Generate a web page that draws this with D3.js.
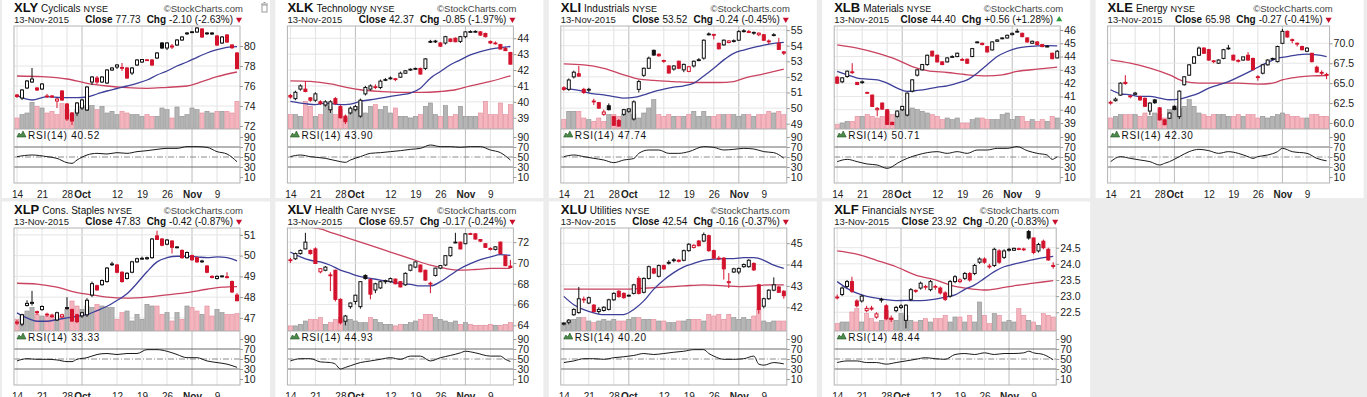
<!DOCTYPE html>
<html>
<head>
<meta charset="utf-8">
<script src="https://cdn.jsdelivr.net/npm/d3@7"></script>
<style>
html, body { margin: 0; padding: 0; background: #ececec; }
svg { display: block; font-family: "Liberation Sans", Arial, sans-serif; }
</style>
</head>
<body>
<svg id="chart" width="1367" height="397"></svg>
<script>
// trading days shown on every panel
var dates = ["9/14","9/15","9/16","9/17","9/18","9/21","9/22","9/23","9/24","9/25","9/28","9/29","9/30",
  "10/1","10/2","10/5","10/6","10/7","10/8","10/9","10/12","10/13","10/14","10/15","10/16","10/19","10/20",
  "10/21","10/22","10/23","10/26","10/27","10/28","10/29","10/30","11/2","11/3","11/4","11/5","11/6",
  "11/9","11/10","11/11","11/12","11/13"];
var tickDates = ["9/14","9/21","9/28","10/1","10/12","10/19","10/26","11/2","11/9"];
var tickLabels = ["14","21","28","Oct","12","19","26","Nov","9"];
var monthLabels = ["Oct","Nov"];

var tickers = ["XLY","XLK","XLI","XLB","XLE","XLP","XLV","XLU","XLF"];
var sectors = ["Cyclicals","Technology","Industrials","Materials","Energy","Cons. Staples","Health Care","Utilities","Financials"];
var closes = ["77.73","42.37","53.52","44.40","65.98","47.83","69.57","42.54","23.92"];
var changes = ["-2.10 (-2.63%)","-0.85 (-1.97%)","-0.24 (-0.45%)","+0.56 (+1.28%)","-0.27 (-0.41%)",
  "-0.42 (-0.87%)","-0.17 (-0.24%)","-0.16 (-0.37%)","-0.20 (-0.83%)"];
var rsiNow = ["40.52","43.90","47.74","50.71","42.30","33.33","44.93","40.20","48.44"];
var priorCloses = [75.3, 40.5, 51.4, 42.3, 62.8, 46.9, 70.5, 41.2, 23.0];

var priceRanges = [[71.7,82.0],[38.29,44.77],[48.66,55.26],[38.55,46.3],[59.25,72.17],
  [46.37,51.33],[63.46,73.36],[40.89,45.71],[21.92,25.11]];
var priceTicks = [[72,74,76,78,80],[39,40,41,42,43,44],[49,50,51,52,53,54,55],[39,40,41,42,43,44,45,46],
  [60,62.5,65,67.5,70],[47,48,49,50,51],[64,66,68,70,72],[42,43,44,45],[22.5,23,23.5,24,24.5]];
var rsiTicks = [10,30,50,70,90];

// [open, high, low, close]
var xlyOHLC = [[75.1,75.2,74.8,74.95],[74.8,75.7,74.6,75.6],[75.8,76.6,75.7,76.5],[76.4,77.8,76.3,76.7],[75.8,75.9,75.5,75.6],
  [75.7,76.3,75.6,76.2],[75.0,75.2,74.8,74.95],[75.0,75.1,74.8,74.9],[74.5,74.8,73.8,74.7],[75.5,75.6,74.5,74.6],
  [74.2,74.3,72.5,72.7],[73.3,73.4,72.1,72.5],[73.3,74.4,73.0,74.3],[73.8,74.7,73.6,74.6],[73.6,76.0,73.5,75.9],
  [76.4,77.0,76.1,76.9],[76.8,77.0,76.2,76.4],[76.4,77.0,76.3,76.9],[76.3,77.7,76.2,77.6],[77.6,77.9,77.5,77.8],
  [77.9,78.2,77.7,78.1],[77.85,78.3,77.5,77.8],[77.8,77.9,76.7,76.8],[77.3,77.9,77.1,77.8],[78.1,78.7,78.0,78.6],
  [78.4,78.7,78.3,78.65],[78.6,78.7,78.5,78.62],[78.6,78.7,78.0,78.1],[78.8,79.4,78.7,79.3],[80.3,80.4,79.7,79.8],
  [79.8,80.4,79.6,80.3],[80.0,80.2,79.7,79.9],[80.1,80.7,80.0,80.6],[80.6,81.0,80.5,80.9],[81.25,81.4,81.1,81.3],
  [81.4,81.5,81.3,81.42],[81.4,81.9,81.3,81.8],[81.7,81.8,80.8,80.9],[81.3,81.4,81.1,81.25],[81.2,81.4,81.1,81.3],
  [81.0,81.1,80.0,80.1],[80.3,81.0,80.2,80.9],[81.1,81.2,80.3,80.4],[80.1,80.2,79.7,79.83],[79.3,79.4,77.7,77.73]];
var xlyVol = [33,43,48,80,68,63,48,53,43,76,58,43,58,68,70,70,58,68,48,53,43,53,48,43,43,38,43,38,38,63,58,33,66,38,43,63,58,48,53,48,53,53,53,48,83];
var xlyMA20 = [[0,75.03],[3,74.6],[6,74.93],[9,74.83],[12,74.83],[14,74.9],[16,75.2],[18,75.5],[20,75.75],[22,76.0],[24,76.27],[26,76.6],[28,77.1],[30,77.5],[32,78.0],[34,78.4],[36,78.87],[38,79.3],[40,79.63],[42,79.87],[44,79.93]];
var xlyMA50 = [[0,77.0],[5,76.93],[10,76.7],[14,76.27],[18,76.0],[22,75.83],[26,75.77],[30,75.87],[34,76.0],[37,76.43],[40,76.93],[44,77.4]];
var xlyRSI = [[0,50.7],[3,54],[6,50.7],[8,47.3],[10,38.7],[11,37.3],[12,44],[14,54],[16,57.3],[18,56],[20,58.7],[22,57.3],[24,60.7],[26,62.7],[28,65.3],[30,67.3],[32,67.3],[34,70.7],[36,70.7],[38,69.3],[40,60.7],[42,56],[44,40.5]];

var xlkOHLC = [[40.4,40.5,40.2,40.3],[40.2,40.7,40.1,40.6],[40.8,41.1,40.7,41.0],[40.8,41.3,40.6,40.65],[40.25,40.3,40.0,40.1],
  [40.1,40.6,40.0,40.5],[40.0,40.1,39.8,39.9],[39.8,40.1,39.7,40.0],[39.5,40.1,39.3,40.0],[40.2,40.3,39.8,39.9],
  [39.7,39.8,38.95,39.0],[39.1,39.2,38.6,38.75],[39.3,39.7,39.2,39.6],[39.5,39.8,39.4,39.7],[39.1,40.2,39.0,40.1],
  [40.5,41.0,40.4,40.9],[40.8,41.1,40.7,41.0],[40.95,41.1,40.8,40.9],[40.9,41.4,40.8,41.3],[41.35,41.5,41.3,41.4],
  [41.5,41.6,41.4,41.5],[41.45,41.5,41.3,41.4],[41.55,41.9,41.5,41.8],[41.8,42.0,41.75,41.95],[42.05,42.1,41.95,42.05],
  [42.05,42.15,42.0,42.1],[42.1,42.15,41.7,41.75],[42.1,42.75,42.0,42.7],[43.8,43.9,43.7,43.8],[43.8,43.9,43.7,43.82],
  [43.7,43.75,43.45,43.5],[43.7,44.15,43.6,44.1],[43.95,44.0,43.75,43.8],[44.0,44.05,43.75,43.78],[43.8,44.15,43.7,44.1],
  [44.1,44.45,44.0,44.4],[44.4,44.5,44.35,44.42],[44.4,44.5,44.35,44.43],[44.4,44.45,44.15,44.2],[44.3,44.35,44.05,44.1],
  [43.8,43.85,43.65,43.7],[43.7,43.8,43.6,43.68],[43.6,43.65,43.3,43.32],[43.35,43.45,43.2,43.22],[43.1,43.15,42.35,42.37]];
var xlkVol = [43,43,38,83,68,38,43,78,68,43,58,33,58,68,78,48,68,73,58,68,48,63,38,38,33,38,43,68,78,43,38,70,38,43,68,38,38,38,48,83,43,43,78,43,73];
var xlkMA20 = [[0,40.03],[3,39.88],[5,39.82],[7,39.92],[10,39.82],[12,39.86],[14,40.03],[16,40.13],[18,40.23],[20,40.34],[22,40.44],[24,40.55],[26,40.86],[28,41.49],[30,41.91],[32,42.33],[34,42.64],[36,42.95],[38,43.16],[40,43.31],[42,43.41],[44,43.48]];
var xlkMA50 = [[0,41.32],[4,41.28],[8,41.13],[12,40.86],[14,40.76],[18,40.65],[22,40.59],[26,40.59],[30,40.65],[33,40.76],[36,41.0],[40,41.28],[44,41.64]];
var xlkRSI = [[0,50.7],[2,54],[4,50.7],[7,47.3],[10,40.7],[11,39.3],[12,44],[14,50.7],[16,57.3],[18,58.7],[20,60.7],[22,62.7],[24,65.3],[26,67.3],[28,74],[30,70.7],[32,70.7],[34,69.3],[36,70.7],[38,70.7],[40,64],[42,58.7],[44,43.9]];

var xliOHLC = [[51.3,51.4,51.1,51.2],[51.2,51.9,51.1,51.8],[52.0,52.4,51.9,52.3],[52.2,52.7,52.0,52.05],[51.2,51.3,50.9,51.0],
  [51.15,51.3,51.0,51.2],[50.45,50.6,50.2,50.4],[50.35,50.4,49.95,50.0],[49.6,49.9,49.5,49.75],[50.15,50.3,49.85,49.9],
  [49.45,49.5,48.85,48.9],[49.2,49.3,48.8,48.85],[49.6,49.95,49.5,49.9],[49.8,50.0,49.7,49.95],[49.3,50.5,49.2,50.4],
  [51.2,51.8,51.0,51.7],[52.1,52.6,52.0,52.55],[52.55,53.3,52.5,53.2],[53.7,53.75,53.35,53.4],[53.45,53.5,53.3,53.35],
  [53.05,53.1,52.9,53.0],[52.7,52.75,52.2,52.25],[52.5,52.75,52.4,52.7],[53.0,53.05,52.5,52.55],[52.45,52.85,52.3,52.8],
  [52.35,52.7,52.3,52.65],[52.7,53.05,52.6,53.0],[53.05,53.2,53.0,53.1],[53.2,54.4,53.1,54.35],[54.75,54.85,54.65,54.75],
  [54.72,54.75,54.4,54.7],[54.15,54.2,53.75,53.8],[54.05,54.4,54.0,54.35],[54.2,54.35,54.15,54.3],[54.3,54.4,54.2,54.32],
  [54.35,55.0,54.3,54.9],[54.95,55.05,54.85,54.95],[54.9,55.0,54.8,54.85],[54.8,54.9,54.7,54.85],[54.7,54.85,54.6,54.8],
  [54.7,54.75,54.3,54.35],[54.25,54.4,54.1,54.3],[54.68,54.8,54.6,54.7],[54.15,54.5,53.75,53.76],[53.6,53.65,53.4,53.52]];
var xliVol = [28,53,53,53,33,28,23,33,23,43,43,38,43,58,43,33,48,63,88,43,38,43,38,38,38,43,53,38,53,38,38,43,43,43,43,38,43,43,38,43,43,53,48,53,43];
var xliMA20 = [[0,51.28],[3,51.13],[6,50.91],[8,50.85],[10,50.74],[12,50.64],[14,50.68],[16,50.85],[18,51.06],[20,51.21],[22,51.34],[24,51.43],[26,51.6],[28,52.05],[30,52.55],[32,53.09],[34,53.51],[36,53.72],[38,53.89],[40,54.04],[42,54.15],[44,54.21]];
var xliMA50 = [[0,52.83],[4,52.77],[8,52.55],[12,52.13],[15,51.85],[18,51.77],[22,51.7],[26,51.64],[31,51.64],[34,51.7],[36,51.91],[40,52.19],[44,52.49]];
var xliRSI = [[0,50.7],[2,54],[4,50.7],[6,47.3],[8,44],[10,38.7],[12,44],[14,47],[15,57.3],[17,64],[19,64],[21,57.3],[23,57.3],[25,60.7],[28,70.7],[30,69.3],[32,64],[34,65.3],[36,67.3],[38,66],[40,60.7],[42,58.7],[44,47.7]];

var xlbOHLC = [[42.45,42.55,41.95,42.0],[42.1,42.45,42.0,42.4],[42.5,42.95,42.4,42.9],[42.85,43.5,42.7,42.8],[42.05,42.1,41.85,41.9],
  [42.05,42.2,41.95,42.1],[41.3,41.35,41.2,41.25],[41.1,41.15,40.2,40.25],[40.0,40.2,39.5,40.1],[40.5,40.55,40.0,40.05],
  [40.0,40.05,38.85,38.9],[39.05,39.1,38.85,38.88],[39.5,39.95,39.4,39.9],[40.0,40.3,39.9,40.25],[39.6,41.3,39.5,41.25],
  [41.4,42.3,41.3,42.25],[42.6,43.05,42.5,43.0],[43.0,43.45,42.95,43.4],[43.4,44.15,43.3,44.1],[44.4,44.45,44.0,44.05],
  [44.1,44.15,43.55,43.6],[43.6,43.65,43.35,43.4],[43.6,43.95,43.55,43.9],[43.98,44.1,43.9,44.0],[44.0,44.3,43.95,44.25],
  [43.78,43.9,43.7,43.75],[43.8,43.85,43.45,43.5],[44.0,44.65,43.95,44.6],[45.1,45.15,45.0,45.1],[45.0,45.05,44.85,44.9],
  [44.75,44.8,44.3,44.35],[44.5,45.15,44.45,45.1],[45.15,45.3,45.1,45.25],[45.38,45.45,45.3,45.4],[45.4,45.65,45.35,45.6],
  [45.65,45.8,45.6,45.75],[45.88,46.1,45.8,45.9],[45.75,45.8,45.45,45.5],[45.4,45.45,45.05,45.1],[45.0,45.2,44.95,45.15],
  [45.1,45.15,44.85,44.9],[44.9,44.95,44.7,44.75],[44.75,44.85,44.7,44.78],[44.25,44.3,43.8,43.84],[43.9,44.5,43.85,44.4]];
var xlbVol = [13,18,23,23,38,38,43,38,33,38,53,43,48,58,58,63,58,53,48,43,38,28,33,28,33,18,18,28,33,33,28,28,28,43,48,28,38,38,23,28,23,28,23,38,33];
var xlbMA20 = [[0,42.88],[2,42.63],[4,42.38],[6,42.3],[8,42.25],[10,42.0],[12,41.63],[14,41.38],[16,41.45],[18,41.55],[20,41.7],[22,41.8],[24,42.0],[26,42.25],[28,42.75],[30,43.38],[32,44.0],[34,44.38],[36,44.63],[38,44.75],[40,44.8],[42,44.83],[44,44.8]];
var xlbMA50 = [[0,44.88],[4,44.63],[8,44.25],[12,43.75],[15,43.25],[18,42.95],[22,42.8],[26,42.63],[30,42.55],[33,42.63],[36,42.88],[40,43.05],[44,43.2]];
var xlbRSI = [[0,40.7],[2,45.3],[4,40.7],[6,36],[8,34],[10,27.3],[11,30.7],[12,37.3],[14,47.3],[16,54],[18,58.7],[20,60.7],[22,57.3],[24,60.7],[26,57.3],[28,64],[30,64],[32,67.3],[34,67.3],[36,70.7],[38,62.7],[40,57.3],[42,54],[43,45.3],[44,50.7]];

var xleOHLC = [[62.6,62.8,62.3,62.5],[62.8,63.2,62.7,63.0],[63.5,65.1,63.4,65.0],[65.1,66.0,64.8,64.95],[63.4,63.5,63.1,63.3],
  [63.6,63.9,63.5,63.75],[63.3,63.4,62.8,62.9],[63.1,63.2,62.0,62.1],[61.5,62.6,61.0,62.5],[62.9,63.0,62.4,62.55],
  [61.9,62.0,60.3,60.4],[60.4,60.5,59.7,59.8],[60.6,61.3,60.5,61.25],[62.1,62.2,61.6,61.7],[60.8,64.1,60.5,64.0],
  [64.8,65.9,64.7,65.8],[66.0,67.4,65.9,67.3],[67.5,68.4,67.4,68.3],[68.5,69.6,68.4,69.4],[69.4,69.5,68.7,68.75],
  [69.2,69.3,67.8,67.9],[67.8,67.9,67.5,67.7],[67.5,68.0,67.4,67.9],[68.1,69.3,68.0,69.2],[69.35,69.8,69.2,69.4],
  [68.5,68.6,67.85,67.9],[67.85,68.0,67.6,67.8],[67.9,68.3,67.8,68.3],[68.5,68.9,67.8,67.9],[68.1,68.2,66.6,66.7],
  [65.8,66.0,65.3,65.75],[66.25,67.4,66.1,67.3],[67.3,68.0,67.2,67.9],[68.1,68.2,67.9,68.05],[67.7,69.7,67.6,69.6],
  [70.0,71.8,69.9,71.5],[71.5,71.6,70.7,70.8],[70.45,70.6,70.0,70.4],[69.9,70.1,69.6,70.0],[69.6,69.7,69.1,69.2],
  [69.0,69.5,68.9,69.4],[68.75,68.8,67.6,67.7],[67.0,67.2,66.3,66.4],[66.35,66.6,66.0,66.25],[66.1,66.3,65.5,65.98]];
var xleVol = [33,38,43,43,43,43,38,48,38,48,43,33,58,63,63,68,88,68,48,43,38,43,43,43,38,38,43,38,43,43,33,38,33,38,43,48,43,38,38,33,33,43,43,38,38];
var xleMA20 = [[0,64.17],[2,63.67],[4,63.54],[6,63.33],[8,63.33],[10,63.13],[12,62.92],[14,63.0],[16,63.33],[18,63.75],[20,64.38],[22,64.79],[24,65.2],[26,65.75],[28,66.35],[30,67.0],[32,67.6],[34,68.13],[36,68.33],[38,68.54],[40,68.63],[42,68.54],[44,68.33]];
var xleMA50 = [[0,67.92],[4,67.5],[8,66.88],[12,66.04],[15,65.21],[18,65.0],[22,65.0],[26,65.0],[30,64.88],[33,65.0],[35,65.42],[38,65.75],[41,65.92],[44,65.96]];
var xleRSI = [[0,40.7],[2,50.7],[4,47.3],[6,44],[8,40.7],[10,34],[11,37.3],[12,40.7],[14,50.7],[16,60.7],[18,65.3],[20,62.7],[22,57.3],[24,60.7],[26,57.3],[28,50.7],[29,47.3],[30,50.7],[32,54],[34,60.7],[35,67.3],[37,60.7],[40,57.3],[42,47.3],[44,42.3]];

var xlpOHLC = [[46.8,46.9,46.65,46.75],[46.7,47.2,46.6,47.15],[47.6,47.85,47.55,47.7],[47.7,48.3,47.6,47.75],[47.3,47.35,47.15,47.25],
  [47.4,47.6,47.35,47.55],[47.18,47.25,47.05,47.15],[47.1,47.2,47.0,47.08],[46.9,47.3,46.85,47.25],[47.05,47.2,47.0,47.15],
  [47.45,48.0,47.4,47.5],[47.4,47.45,46.8,46.85],[47.15,47.2,46.75,46.82],[47.1,47.3,47.0,47.25],[47.15,47.95,47.05,47.85],
  [48.1,48.75,48.0,48.65],[48.55,48.6,48.3,48.35],[48.6,48.85,48.55,48.8],[48.75,49.45,48.7,49.4],[49.58,49.7,49.5,49.6],
  [49.55,49.6,49.15,49.2],[49.2,49.25,48.7,48.75],[48.9,49.2,48.85,49.15],[49.2,49.75,49.15,49.7],[49.7,49.9,49.65,49.85],
  [49.85,49.95,49.8,49.87],[49.85,49.95,49.8,49.9],[49.9,50.85,49.85,50.8],[50.95,51.2,50.75,50.78],[50.8,50.85,50.45,50.5],
  [50.55,50.8,50.5,50.75],[50.7,50.75,50.1,50.4],[50.38,50.45,50.35,50.42],[50.25,50.3,49.85,49.9],[49.9,50.2,49.85,50.15],
  [50.0,50.05,49.75,49.8],[49.9,49.95,49.65,49.7],[49.72,49.8,49.65,49.74],[49.5,49.55,49.15,49.2],[49.0,49.05,48.9,48.95],
  [48.9,49.05,48.85,49.0],[49.0,49.05,48.95,49.02],[48.98,49.2,48.9,48.95],[48.75,48.8,48.2,48.25],[48.1,48.2,47.8,47.83]];
var xlpVol = [35,50,60,70,50,45,45,50,35,45,65,90,75,65,75,70,80,75,70,70,35,55,60,30,50,35,80,75,75,50,55,30,55,35,75,70,60,50,75,45,65,55,50,50,52];
var xlpMA20 = [[0,47.24],[2,47.0],[4,46.84],[6,46.84],[8,46.92],[10,47.0],[12,47.08],[14,47.16],[16,47.35],[18,47.56],[20,47.84],[22,48.16],[24,48.67],[26,49.22],[28,49.7],[30,49.9],[32,49.97],[34,49.97],[36,49.94],[38,49.9],[40,49.94],[42,49.9],[44,49.75]];
var xlpMA50 = [[0,48.67],[4,48.63],[8,48.48],[12,48.22],[15,48.11],[18,48.0],[22,47.95],[26,48.0],[30,48.11],[34,48.22],[38,48.38],[41,48.48],[44,48.51]];
var xlpRSI = [[0,46.1],[2,50.6],[4,49.4],[6,49.4],[8,48.1],[10,44.8],[11,44.8],[12,49.4],[14,52.6],[16,59],[18,61],[20,59],[22,61],[24,61],[26,68.7],[28,68.7],[30,65.5],[32,59],[34,52.6],[36,52.6],[38,46.1],[40,42.9],[42,39.7],[44,33.3]];

var xlvOHLC = [[70.3,70.5,70.0,70.25],[70.4,71.0,70.3,70.9],[70.9,71.3,70.8,71.2],[71.35,72.9,71.3,72.0],[71.2,71.3,70.8,70.9],
  [71.35,71.5,69.9,69.95],[69.15,69.5,69.0,69.45],[69.3,69.7,69.2,69.6],[68.85,69.1,67.3,68.8],[69.3,69.35,66.3,66.5],
  [66.5,66.6,64.1,64.25],[64.4,65.0,64.0,64.9],[65.8,66.2,65.6,66.15],[66.3,66.95,66.0,66.9],[65.8,68.25,65.6,68.2],
  [68.8,68.9,68.4,68.5],[68.4,68.5,66.5,67.0],[67.4,68.1,67.1,68.0],[67.6,68.3,67.5,68.2],[68.2,68.4,68.0,68.3],
  [68.2,68.6,68.1,68.5],[68.45,68.5,67.95,68.0],[68.2,68.25,67.65,67.7],[67.9,69.1,67.8,69.0],[69.3,69.85,69.2,69.8],
  [69.6,70.15,69.5,70.1],[69.8,69.85,69.1,69.15],[69.3,69.35,68.3,68.35],[68.05,68.2,67.1,68.0],[68.8,69.55,68.7,69.5],
  [69.5,69.8,69.4,69.75],[69.8,70.75,69.7,70.7],[70.7,71.55,70.6,71.5],[71.98,72.9,71.9,72.0],[72.0,72.05,71.3,71.35],
  [71.85,72.85,71.8,72.8],[72.82,72.9,72.7,72.78],[72.8,72.85,72.25,72.3],[72.25,72.3,72.0,72.1],[71.85,71.9,71.45,71.5],
  [71.4,71.5,71.2,71.3],[71.3,71.6,71.2,71.55],[72.0,72.05,70.85,70.9],[70.7,70.75,69.7,69.74],[69.7,70.3,69.5,69.57]];
var xlvVol = [15,15,20,30,35,35,40,20,25,35,40,35,35,30,25,25,40,35,25,20,20,15,20,20,25,30,35,50,50,40,35,30,25,30,20,25,20,17,17,17,20,17,17,20,25];
var xlvMA20 = [[0,71.05],[2,70.58],[4,70.26],[6,70.1],[8,69.78],[10,69.31],[12,68.99],[14,68.68],[16,68.52],[18,68.36],[20,68.2],[22,68.04],[24,67.95],[26,67.79],[28,67.79],[30,68.2],[32,68.84],[34,69.47],[36,69.94],[38,70.32],[40,70.58],[42,70.8],[44,70.73]];
var xlvMA50 = [[0,73.74],[3,73.49],[6,73.27],[8,72.95],[12,72.32],[16,71.68],[20,71.05],[24,70.42],[28,69.78],[31,69.47],[34,69.31],[37,69.37],[40,69.47],[44,69.47]];
var xlvRSI = [[0,46.1],[2,50.6],[4,50.6],[6,44.2],[8,42.9],[9,39.7],[10,30],[11,33.2],[12,36.5],[14,42.9],[16,46.1],[18,49.4],[20,52.6],[22,49.4],[24,55.8],[26,55.8],[28,46.1],[30,52.6],[32,57.1],[34,62.3],[35,65.5],[37,62.3],[40,55.8],[42,55.8],[43,49.4],[44,44.9]];

var xluOHLC = [[41.22,41.3,41.15,41.25],[41.3,41.45,41.2,41.4],[41.65,41.95,41.6,41.9],[41.75,42.95,41.7,42.4],[42.38,42.5,42.2,42.35],
  [42.2,42.5,42.15,42.45],[42.1,42.15,41.75,41.8],[41.8,42.0,41.7,41.9],[41.85,42.05,41.8,42.0],[41.9,42.4,41.85,42.35],
  [42.35,42.7,42.3,42.65],[42.75,42.8,42.45,42.5],[42.65,42.7,42.4,42.45],[42.55,42.6,42.5,42.56],[42.65,43.1,42.6,43.05],
  [43.35,43.45,42.6,42.65],[42.7,43.4,42.65,43.35],[43.35,43.95,43.3,43.9],[43.8,43.85,43.55,43.6],[43.45,44.0,43.4,43.95],
  [43.95,44.0,43.75,43.8],[44.1,44.2,44.0,44.1],[44.22,44.3,44.1,44.2],[44.2,44.25,44.1,44.15],[44.2,44.7,44.15,44.65],
  [44.65,45.0,44.6,44.95],[44.8,44.95,44.75,44.9],[45.1,45.15,44.85,44.88],[45.1,45.5,45.05,45.4],[45.35,45.4,44.6,44.65],
  [44.65,44.7,44.25,44.3],[44.3,44.4,44.2,44.28],[44.3,44.35,43.3,43.8],[43.15,43.6,42.9,43.2],[43.65,43.85,43.6,43.8],
  [43.65,43.85,43.55,43.82],[43.9,44.05,43.85,44.0],[43.9,44.25,43.85,44.2],[44.05,44.1,43.7,43.75],[43.05,43.1,41.7,41.9],
  [42.05,42.45,41.95,42.4],[42.4,42.85,42.35,42.8],[42.8,43.4,42.75,43.05],[42.95,43.0,42.7,42.7],[42.75,42.8,42.4,42.54]];
var xluVol = [25,30,35,40,40,30,25,30,35,30,35,30,30,35,40,40,35,35,35,30,30,25,25,30,30,35,35,35,30,50,45,50,35,50,40,35,40,35,45,65,30,25,30,30,30];
var xluMA20 = [[0,42.51],[2,42.12],[4,41.89],[6,41.74],[8,41.66],[10,41.66],[12,41.66],[14,41.9],[16,42.3],[18,42.85],[20,43.28],[22,43.62],[24,43.89],[26,44.05],[28,44.2],[30,44.25],[32,44.28],[34,44.28],[36,44.32],[38,44.32],[40,44.2],[42,43.97],[44,43.82]];
var xluMA50 = [[0,42.85],[4,42.85],[8,42.85],[12,42.85],[16,42.89],[20,42.94],[24,43.0],[28,43.05],[32,43.0],[35,42.97],[38,43.0],[41,43.05],[44,43.05]];
var xluRSI = [[0,42.9],[2,46.1],[4,50.6],[6,50.6],[8,49.4],[10,52.6],[12,54.5],[14,57.1],[16,61],[18,59],[20,61],[22,63.5],[24,65.5],[26,68.7],[28,68.7],[29,61],[30,55.8],[32,49.4],[34,49.4],[36,50.6],[38,55.8],[39,39.7],[40,37.7],[42,42.9],[44,40.2]];

var xlfOHLC = [[22.97,23.05,22.9,22.95],[23.05,23.3,23.0,23.25],[23.3,23.5,23.25,23.45],[23.45,23.6,23.1,23.15],[22.85,22.9,22.65,22.7],
  [22.85,23.05,22.8,23.0],[22.55,22.7,22.5,22.62],[22.63,22.7,22.55,22.6],[22.35,22.5,22.3,22.45],[22.88,22.95,22.8,22.9],
  [22.7,22.75,22.25,22.3],[22.32,22.4,22.2,22.28],[22.55,22.7,22.5,22.65],[22.65,22.75,22.6,22.7],[22.25,22.75,22.0,22.72],
  [22.9,23.25,22.85,23.2],[23.18,23.2,23.1,23.15],[23.25,23.45,23.2,23.4],[23.28,23.35,23.2,23.3],[23.2,23.5,23.15,23.45],
  [23.28,23.35,23.2,23.3],[23.25,23.3,23.05,23.1],[23.1,23.15,22.85,22.9],[23.0,23.5,22.95,23.45],[23.45,23.65,23.4,23.6],
  [23.45,23.55,23.4,23.5],[23.55,23.75,23.5,23.7],[23.7,23.75,23.45,23.5],[23.7,24.0,23.65,23.95],[24.05,24.2,24.0,24.15],
  [24.15,24.2,24.0,24.05],[23.93,24.0,23.85,23.92],[23.95,24.5,23.9,24.45],[24.4,24.45,24.0,24.05],[24.2,24.45,24.15,24.4],
  [24.42,24.5,24.38,24.45],[24.42,24.5,24.4,24.48],[24.45,24.5,24.42,24.47],[24.44,24.5,24.4,24.46],[25.0,25.05,24.75,24.8],
  [24.8,24.82,24.3,24.35],[24.4,24.65,24.35,24.6],[24.7,24.75,24.45,24.5],[24.45,24.5,24.1,24.12],[23.95,24.05,23.85,23.92]];
var xlfVol = [22,27,27,57,67,27,52,37,27,32,62,37,32,52,47,32,27,32,37,27,37,37,47,27,42,42,27,47,27,87,47,22,52,47,27,32,27,67,47,32,27,17,52,47,42];
var xlfMA20 = [[0,23.45],[2,23.24],[4,23.09],[6,22.99],[8,22.94],[10,22.89],[12,22.86],[14,22.87],[16,22.86],[18,22.87],[20,22.91],[22,22.97],[24,23.04],[26,23.21],[28,23.35],[30,23.55],[32,23.76],[34,23.91],[36,23.99],[38,24.06],[40,24.13],[42,24.19],[44,24.23]];
var xlfMA50 = [[0,24.4],[4,24.3],[8,24.11],[12,23.91],[16,23.65],[20,23.5],[24,23.3],[28,23.21],[30,23.19],[33,23.24],[36,23.32],[40,23.4],[44,23.48]];
var xlfRSI = [[0,42.9],[2,46.1],[4,46.1],[6,42.9],[8,42.9],[10,39.7],[12,42.9],[14,46.1],[16,49.4],[18,52.6],[20,50.6],[22,49.4],[24,59],[26,61],[28,59],[30,62.3],[32,59],[34,61],[36,61],[38,62.3],[39,65.5],[40,62.3],[42,59],[44,48.4]];

var ohlcs = [xlyOHLC, xlkOHLC, xliOHLC, xlbOHLC, xleOHLC, xlpOHLC, xlvOHLC, xluOHLC, xlfOHLC];
var volumes = [xlyVol, xlkVol, xliVol, xlbVol, xleVol, xlpVol, xlvVol, xluVol, xlfVol];
var ma20s = [xlyMA20, xlkMA20, xliMA20, xlbMA20, xleMA20, xlpMA20, xlvMA20, xluMA20, xlfMA20];
var ma50s = [xlyMA50, xlkMA50, xliMA50, xlbMA50, xleMA50, xlpMA50, xlvMA50, xluMA50, xlfMA50];
var rsis = [xlyRSI, xlkRSI, xliRSI, xlbRSI, xleRSI, xlpRSI, xlvRSI, xluRSI, xlfRSI];

var RED = "#d3122c", BLACK = "#111";

var svg = d3.select("#chart");
var defs = svg.append("defs");

tickers.forEach(function (ticker, k) {
        var col = k % 5, row = Math.floor(k / 5);
        var bx = 2 + col * 273.4, top = row * 202;
        var left = bx + 12;
        var ticks = priceTicks[k];
        var wide = ticks.some(function (t) { return t % 1 !== 0; });
        var right = left + (wide ? 222 : 226);
        var pTop = top + 26, pBot = top + 129, rBot = top + 183;

        // white card
        svg.append("rect")
                .attr("x", bx).attr("y", row ? top - 0.5 : -2)
                .attr("width", 268).attr("height", 200)
                .attr("fill", "#fff");

        var x = d3.scalePoint().domain(dates).range([left + 3, right - 3]);
        var y = d3.scaleLinear().domain(priceRanges[k]).range([pBot, pTop]);
        var v = d3.scaleLinear().domain([0, 90]).range([pBot, pBot - 30]);
        var r = d3.scaleLinear().domain([0, 100]).range([rBot - 1, rBot - 51]);

        var ohlc = ohlcs[k];
        var rows = ohlc.map(function (d, i) {
                var prev = i ? ohlc[i - 1][3] : priorCloses[k];
                return { date: dates[i], o: d[0], h: d[1], l: d[2], c: d[3], vol: volumes[k][i], down: d[3] < prev };
        });
        var color = function (d) { return d.down ? RED : BLACK; };

        // grid
        var grid = svg.append("g");
        grid.selectAll("line.v").data(tickDates).join("line")
                .attr("x1", function (d) { return x(d); })
                .attr("x2", function (d) { return x(d); })
                .attr("y1", pTop).attr("y2", rBot)
                .attr("stroke", function (d, i) { return monthLabels.indexOf(tickLabels[i]) >= 0 ? "#bcbcbc" : "#e2e2e2"; });
        grid.selectAll("line.h").data(ticks).join("line")
                .attr("x1", left).attr("x2", right)
                .attr("y1", function (d) { return y(d); })
                .attr("y2", function (d) { return y(d); })
                .attr("stroke", "#e6e6e6");

        defs.append("clipPath").attr("id", "clip" + k)
                .append("rect").attr("x", left).attr("y", pTop)
                .attr("width", right - left).attr("height", pBot - pTop);

        var plot = svg.append("g").attr("clip-path", "url(#clip" + k + ")");

        // volume
        plot.selectAll("rect.vol").data(rows).join("rect")
                .attr("x", function (d) { return x(d.date) - 2.1; })
                .attr("width", 4.2)
                .attr("y", function (d) { return v(d.vol); })
                .attr("height", function (d) { return pBot - v(d.vol); })
                .attr("fill", function (d) { return d.down ? "#f4b5bf" : "#b5b5b5"; })
                .attr("stroke", function (d) { return d.down ? "#e28c9a" : "#8f8f8f"; })
                .attr("stroke-width", 0.6);

        // moving averages
        var ma = d3.line()
                .x(function (d) { return x(dates[d[0]]); })
                .y(function (d) { return y(d[1]); })
                .curve(d3.curveMonotoneX);
        plot.append("path").datum(ma50s[k]).attr("d", ma)
                .attr("fill", "none").attr("stroke", "#c9425f").attr("stroke-width", 1.3);
        plot.append("path").datum(ma20s[k]).attr("d", ma)
                .attr("fill", "none").attr("stroke", "#3d3f99").attr("stroke-width", 1.3);

        // candles
        var candle = plot.selectAll("g.candle").data(rows).join("g");
        candle.append("line")
                .attr("x1", function (d) { return x(d.date); })
                .attr("x2", function (d) { return x(d.date); })
                .attr("y1", function (d) { return y(d.h); })
                .attr("y2", function (d) { return y(d.l); })
                .attr("stroke", color);
        candle.append("rect")
                .attr("x", function (d) { return x(d.date) - 1.5; })
                .attr("width", 3)
                .attr("y", function (d) { return y(Math.max(d.o, d.c)); })
                .attr("height", function (d) { return Math.max(0.8, Math.abs(y(d.o) - y(d.c))); })
                .attr("fill", function (d) { return d.c > d.o ? "#fff" : color(d); })
                .attr("stroke", color);

        // rsi
        var rsiG = svg.append("g");
        [70, 30].forEach(function (lv) {
                rsiG.append("line").attr("x1", left).attr("x2", right)
                        .attr("y1", r(lv)).attr("y2", r(lv)).attr("stroke", "#6a6a6a");
        });
        rsiG.append("line").attr("x1", left).attr("x2", right)
                .attr("y1", r(50)).attr("y2", r(50))
                .attr("stroke", "#8a8a8a").attr("stroke-dasharray", "6,2,1,2");
        var rl = d3.line()
                .x(function (d) { return x(dates[d[0]]); })
                .y(function (d) { return r(d[1]); })
                .curve(d3.curveMonotoneX);
        rsiG.append("path").datum(rsis[k]).attr("d", rl)
                .attr("fill", "none").attr("stroke", "#1a1a1a").attr("stroke-width", 1);

        // frames
        svg.append("rect").attr("x", left).attr("y", pTop)
                .attr("width", right - left).attr("height", rBot - pTop)
                .attr("fill", "none").attr("stroke", "#b3b3b3");
        svg.append("line").attr("x1", left).attr("x2", right)
                .attr("y1", pBot).attr("y2", pBot).attr("stroke", "#b3b3b3");

        // axes
        var fmt = wide ? d3.format(".1f") : d3.format("d");
        var ya = svg.append("g").attr("transform", "translate(" + right + ",0)")
                .call(d3.axisRight(y).tickValues(ticks).tickSize(3).tickPadding(1).tickFormat(fmt));
        var ra = svg.append("g").attr("transform", "translate(" + right + ",0)")
                .call(d3.axisRight(r).tickValues(rsiTicks).tickSize(3).tickPadding(1));
        var xa = svg.append("g").attr("transform", "translate(0," + rBot + ")")
                .call(d3.axisBottom(x).tickValues(tickDates).tickSize(0).tickPadding(8)
                        .tickFormat(function (d, i) { return tickLabels[i]; }));
        [ya, ra, xa].forEach(function (a) {
                a.select(".domain").remove();
                a.attr("font-family", null).attr("font-size", null);
                a.selectAll("line").attr("stroke", "#999");
                a.selectAll("text").attr("font-size", 10.5).attr("fill", "#222");
        });
        xa.selectAll("text").attr("font-size", 10)
                .attr("font-weight", function (d, i) { return monthLabels.indexOf(tickLabels[i]) >= 0 ? "bold" : null; });

        // header
        var title = svg.append("text").attr("x", left).attr("y", top + 12).attr("fill", "#111");
        title.append("tspan").attr("font-weight", "bold").attr("font-size", 13).text(ticker);
        title.append("tspan").attr("font-size", 10).attr("dx", 3).text(sectors[k]);
        title.append("tspan").attr("font-size", 9).attr("dx", 3).text("NYSE");

        svg.append("text").attr("x", right + 3).attr("y", top + 11.5)
                .attr("text-anchor", "end").attr("font-size", 9.5).attr("fill", "#444")
                .text("\u00A9StockCharts.com");

        svg.append("text").attr("x", left).attr("y", top + 23)
                .attr("font-size", 9.5).attr("fill", "#222").text("13-Nov-2015");

        var quote = svg.append("text").attr("x", right - 7).attr("y", top + 23)
                .attr("text-anchor", "end").attr("font-size", 10).attr("fill", "#111");
        quote.append("tspan").attr("font-weight", "bold").text("Close");
        quote.append("tspan").attr("dx", 3).text(closes[k]);
        quote.append("tspan").attr("dx", 6).attr("font-weight", "bold").text("Chg");
        quote.append("tspan").attr("dx", 3).text(changes[k]);

        var up = changes[k].charAt(0) === "+";
        svg.append("path")
                .attr("d", d3.symbol(d3.symbolTriangle).size(16)())
                .attr("transform", "translate(" + (right - 1) + "," + (top + 19.5) + ") rotate(" + (up ? 0 : 180) + ")")
                .attr("fill", up ? "#2e9a3e" : "#c8102e");

        // rsi label
        svg.append("path")
                .attr("d", "M0,6 L2,2 L4,4 L6,0 L9,6 Z")
                .attr("transform", "translate(" + (left + 3) + "," + (top + 131) + ")")
                .attr("fill", "#4c8c4a").attr("stroke", "#1f4d1f").attr("stroke-width", 0.6);
        svg.append("text").attr("x", left + 14).attr("y", top + 138.5)
                .attr("font-size", 10).attr("letter-spacing", 0.75).attr("fill", "#111")
                .text("RSI(14) " + rsiNow[k]);

        // trash icon on the first card
        if (k === 0) {
                var icon = svg.append("g").attr("stroke", "#999").attr("fill", "none");
                icon.append("rect").attr("x", 262).attr("y", 5).attr("width", 5).attr("height", 7);
                icon.append("line").attr("x1", 261).attr("x2", 268).attr("y1", 4).attr("y2", 4);
                icon.append("line").attr("x1", 263.5).attr("x2", 265.5).attr("y1", 2.5).attr("y2", 2.5);
        }
});
</script>
</body>
</html>
